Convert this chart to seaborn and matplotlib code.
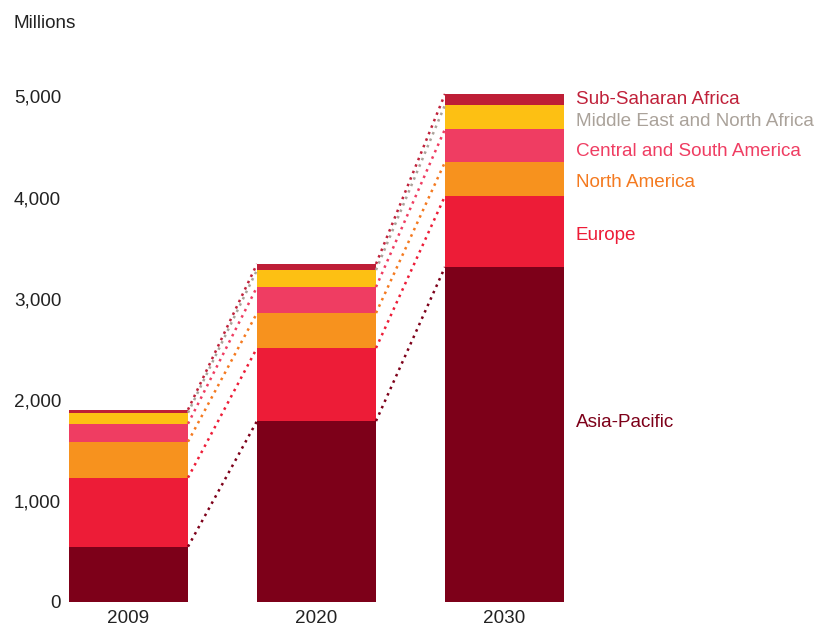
import numpy as np
import pandas as pd
import matplotlib
matplotlib.use("Agg")
import matplotlib.pyplot as plt
import seaborn as sns

# ---- data (millions) ----
years = ["2009", "2020", "2030"]
asia_pacific = [543, 1787, 3312]
europe = [683, 723, 703]
north_america = [356, 346, 336]
central_south_america = [178, 258, 327]
mena = [109, 168, 238]
sub_saharan_africa = [30, 60, 109]

series_names = ["Asia-Pacific", "Europe", "North America",
                "Central and South America", "Middle East and North Africa",
                "Sub-Saharan Africa"]
series_values = [asia_pacific, europe, north_america,
                 central_south_america, mena, sub_saharan_africa]
bar_colors = ["#7d0019", "#ed1c37", "#f7921e", "#ef3d62", "#fdc013", "#be1e36"]
label_colors = ["#7d0019", "#ed1c37", "#f47a20", "#ef3d62", "#aaa29a", "#c0213a"]
label_y = [1772, 3624, 4148, 4455, 4752, 4970]
yticks = [0, 1000, 2000, 3000, 4000, 5000]
ytick_labels = ["0", "1,000", "2,000", "3,000", "4,000", "5,000"]

sns.set_style("white")
plt.rcParams["font.family"] = ["Liberation Sans", "DejaVu Sans"]

fig = plt.figure(figsize=(8.31, 6.26), dpi=100)
ax = fig.add_axes([0.077, 0.0391, 0.9218, 0.865])

cum = np.cumsum(np.array(series_values), axis=0)
bw = 0.633

# draw from the top cumulative down so each layer overlays
for i in range(len(series_names) - 1, -1, -1):
    df = pd.DataFrame({"year": years, "value": cum[i]})
    sns.barplot(data=df, x="year", y="value", order=years, color=bar_colors[i],
                saturation=1, width=bw, ax=ax, linewidth=0, errorbar=None)

# dotted connectors
for i in range(len(series_names)):
    for j in range(len(years) - 1):
        ax.plot([j + bw / 2, j + 1 - bw / 2], [cum[i][j], cum[i][j + 1]],
                linestyle=(0, (1, 1.8)), linewidth=1.8, color=label_colors[i],
                zorder=1)

# right-side labels
fs = 13.6
for name, yv, c in zip(series_names, label_y, label_colors):
    ax.text(2.380, yv, name, color=c, fontsize=fs, ha="left", va="center")

ax.set_xlim(-0.343, 3.731)
ax.set_ylim(0, 5361)
ax.set_yticks(yticks)
ax.set_yticklabels(ytick_labels)
ax.set_xlabel("")
ax.set_ylabel("")
ax.tick_params(axis="y", length=0, pad=2, labelsize=fs, colors="#222222")
ax.tick_params(axis="x", length=0, pad=6, labelsize=fs, colors="#222222")
sns.despine(ax=ax, left=True, bottom=True)
ax.grid(False)

fig.text(14 / 831, 1 - 23 / 626, "Millions", fontsize=fs, color="#222222",
         ha="left", va="center")

fig.savefig("out.png", dpi=100)
